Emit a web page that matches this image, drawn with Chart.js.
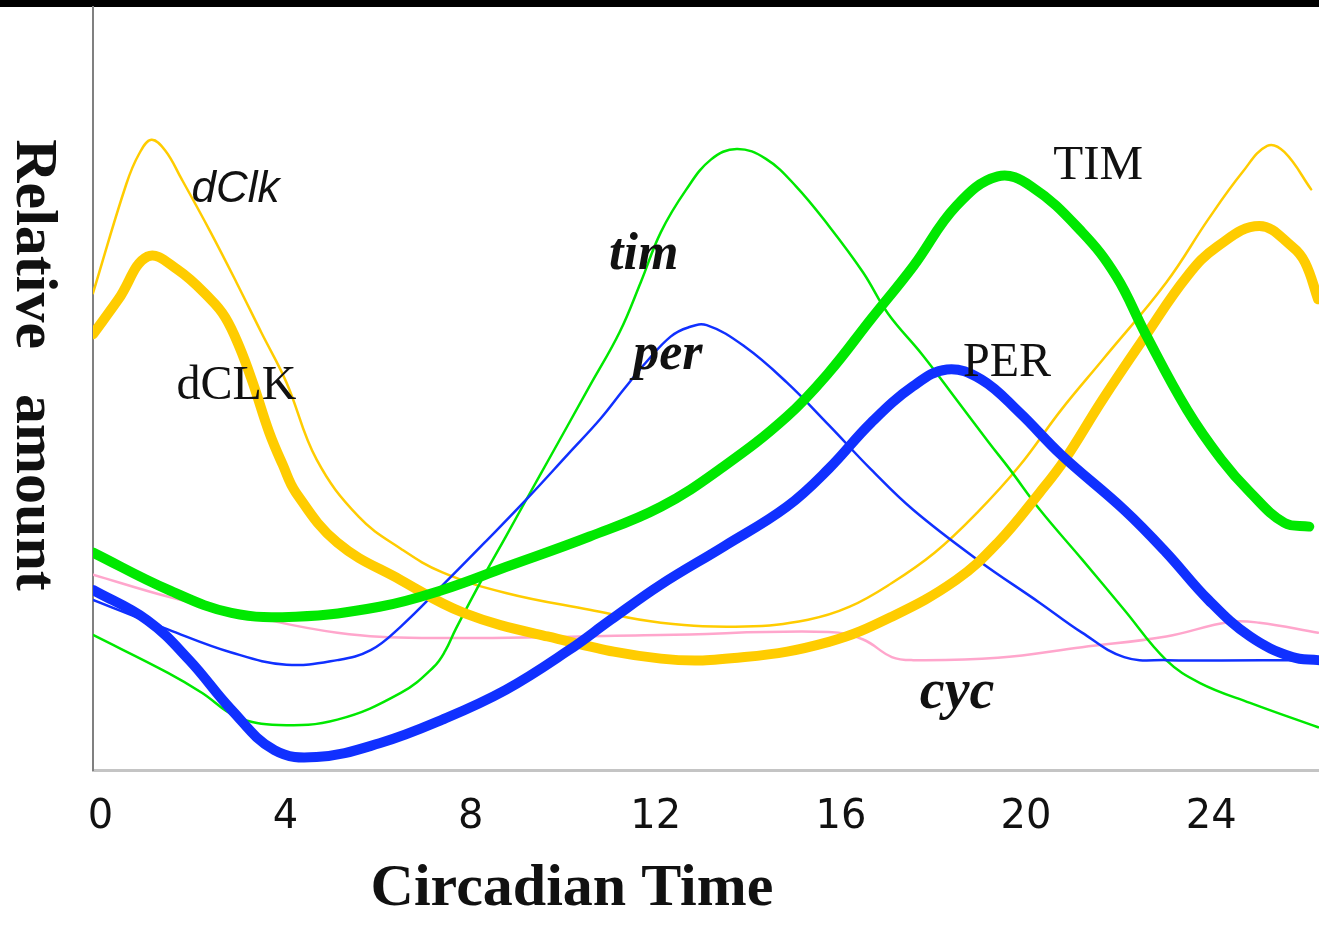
<!DOCTYPE html>
<html>
<head>
<meta charset="utf-8">
<title>Circadian Time</title>
<script src="https://cdn.jsdelivr.net/npm/chart.js@4.4.1/dist/chart.umd.min.js"></script>
<style>
  html, body { margin: 0; padding: 0; background: #fff; overflow: hidden; }
  canvas { display: block; }
</style>
</head>
<body>
<canvas id="clockChart" width="1319" height="929"></canvas>
<script>
// x axis ticks (hours)
var tickHours = [0, 4, 8, 12, 16, 20, 24];

// dClk mRNA (thin yellow)
var dClkHours = [-0.16, 0.56, 0.84, 1.10, 1.4, 1.75, 2.38, 2.94, 3.48, 4.02, 4.67, 5.58, 6.49, 7.39, 8.76, 10.57, 12.11, 13.92, 15.29, 16.19, 17.1, 18.03, 18.94, 19.85, 20.76, 21.66, 23.03, 23.94, 24.67, 25.21, 25.58, 26.16];
var dClkLevel = [62.5, 76.8, 80.8, 82.6, 81.2, 77.5, 70.5, 63.9, 57.3, 50.8, 40.7, 33.2, 29.0, 25.9, 23.2, 21.0, 19.3, 18.8, 19.7, 21.4, 24.5, 28.5, 33.7, 39.8, 47.2, 53.8, 63.9, 72.2, 78.3, 81.8, 81.0, 76.1];

// dCLK protein (thick yellow)
var dCLKHours = [-0.16, 0.39, 1.02, 1.66, 2.38, 2.7, 3.0, 3.29, 3.65, 3.94, 4.22, 5.12, 6.49, 7.85, 9.66, 12.11, 13.92, 15.74, 17.1, 18.49, 19.39, 20.3, 20.84, 21.66, 22.57, 23.48, 24.13, 25.04, 25.75, 26.03, 26.31];
var dCLKLevel = [57.1, 61.7, 67.3, 65.6, 61.7, 59.3, 55.5, 50.8, 44.2, 40.0, 36.4, 29.8, 24.9, 20.6, 17.5, 14.6, 14.8, 16.8, 20.1, 24.9, 29.8, 36.4, 40.7, 48.6, 56.8, 64.7, 68.6, 71.3, 68.6, 66.5, 61.7];

// tim mRNA (thin green)
var timHours = [-0.16, 1.47, 2.2, 2.94, 3.85, 5.12, 6.49, 7.2, 7.45, 7.68, 8.3, 8.76, 9.3, 9.66, 10.57, 11.22, 11.68, 12.11, 12.65, 13.19, 13.75, 14.38, 15.03, 15.74, 16.48, 17.02, 17.75, 18.49, 19.2, 19.65, 20.3, 21.21, 22.12, 23.03, 23.76, 24.84, 26.31];
var timLevel = [17.7, 12.7, 10.1, 7.0, 5.9, 6.6, 10.1, 13.5, 15.6, 18.5, 25.6, 30.6, 36.5, 40.4, 50.3, 57.4, 64.0, 70.5, 76.0, 80.0, 81.4, 80.1, 76.5, 71.3, 65.2, 59.8, 54.5, 48.6, 42.9, 39.4, 34.1, 27.6, 21.0, 14.4, 11.4, 8.8, 5.6];

// TIM protein (thick green)
var TIMHours = [-0.16, 1.47, 2.83, 4.22, 6.03, 7.39, 8.76, 10.57, 12.11, 13.47, 14.83, 15.74, 16.65, 17.56, 18.49, 19.39, 20.11, 21.21, 21.95, 22.57, 23.48, 24.22, 24.84, 25.58, 26.12];
var TIMLevel = [28.5, 23.6, 20.6, 20.1, 21.4, 23.6, 26.6, 30.6, 34.5, 39.8, 46.3, 52.1, 59.1, 66.0, 73.9, 77.8, 76.5, 70.5, 64.7, 57.3, 47.2, 40.7, 36.4, 32.4, 31.9];

// per mRNA (thin blue)
var perHours = [-0.16, 1.47, 2.83, 4.02, 5.12, 5.84, 6.49, 7.39, 8.3, 9.21, 10.12, 10.8, 11.31, 11.8, 12.32, 12.7, 13.1, 13.92, 14.83, 15.74, 16.65, 17.56, 18.94, 20.3, 21.21, 22.12, 23.03, 26.31];
var perLevel = [22.3, 18.4, 15.4, 13.8, 14.4, 15.7, 18.8, 24.2, 29.8, 35.5, 41.5, 46.0, 49.9, 53.5, 56.8, 58.0, 58.3, 55.5, 50.8, 45.2, 39.4, 34.1, 27.6, 21.9, 18.0, 14.8, 14.4, 14.4];

// PER protein (thick blue)
var PERHours = [-0.16, 1.02, 1.92, 2.83, 3.76, 4.67, 6.03, 7.39, 8.76, 10.12, 11.03, 12.11, 13.47, 14.83, 15.74, 16.65, 17.56, 18.29, 19.03, 19.85, 20.76, 22.12, 23.03, 23.94, 24.84, 25.75, 26.31];
var PERLevel = [23.6, 19.6, 14.4, 7.9, 2.6, 1.7, 3.5, 6.6, 10.5, 15.7, 19.7, 24.3, 29.3, 34.5, 39.5, 45.5, 50.3, 52.5, 51.2, 46.9, 41.3, 34.1, 28.5, 22.3, 17.5, 14.8, 14.4];

// cyc mRNA (thin pink)
var cycHours = [-0.16, 1.47, 3.29, 5.12, 6.94, 12.11, 15.74, 16.48, 17.1, 17.56, 19.39, 21.21, 23.03, 24.39, 25.04, 26.31];
var cycLevel = [25.6, 22.7, 20.1, 18.0, 17.3, 17.7, 18.1, 17.1, 14.8, 14.4, 14.7, 16.1, 17.5, 19.4, 19.3, 18.0];

// names written next to the curves, placed in hour / level units
var geneLabels = [
    { text: 'dClk', hour: 2.92, level: 74.4, font: 'italic 44px "Liberation Sans"' },
    { text: 'dCLK', hour: 2.94, level: 48.6, font: '48px "Liberation Serif"' },
    { text: 'tim', hour: 11.74, level: 65.6, font: 'italic bold 52px "Liberation Serif"' },
    { text: 'per', hour: 12.26, level: 52.5, font: 'italic bold 52px "Liberation Serif"' },
    { text: 'TIM', hour: 21.56, level: 77.4, font: '49px "Liberation Serif"' },
    { text: 'PER', hour: 19.59, level: 51.6, font: '48px "Liberation Serif"' },
    { text: 'cyc', hour: 18.51, level: 8.1, font: 'italic bold 56px "Liberation Serif"' }
];

var YELLOW = '#ffcc00';
var GREEN = '#00e800';
var BLUE = '#1030ff';
var PINK = '#ffa6cc';

function toPoints(hours, levels) {
    return hours.map(function(h, i) {
        return { x: h, y: levels[i] };
    });
}

function curve(label, hours, levels, color, width) {
    return {
        label: label,
        data: toPoints(hours, levels),
        borderColor: color,
        backgroundColor: color,
        borderWidth: width,
        borderCapStyle: 'round',
        borderJoinStyle: 'round',
        pointRadius: 0,
        tension: 0.4,
        fill: false
    };
}

// black band, axis titles and curve names
var textPlugin = {
    id: 'circadianText',
    beforeDraw: function(chart) {
        var ctx = chart.ctx;
        ctx.save();
        ctx.fillStyle = '#000';
        ctx.fillRect(0, 0, chart.width, 7);
        ctx.restore();
    },
    afterDraw: function(chart) {
        var ctx = chart.ctx;
        var xs = chart.scales.x;
        var ys = chart.scales.y;
        ctx.save();
        ctx.fillStyle = '#111';
        ctx.textAlign = 'center';
        ctx.textBaseline = 'alphabetic';

        geneLabels.forEach(function(l) {
            ctx.font = l.font;
            ctx.fillText(l.text, xs.getPixelForValue(l.hour), ys.getPixelForValue(l.level));
        });

        ctx.font = 'bold 60px "Liberation Serif"';
        ctx.fillText('Circadian Time', 572, 905);

        ctx.translate(17, 365);
        ctx.rotate(Math.PI / 2);
        ctx.fillText('Relative   amount', 0, 0);
        ctx.restore();
    }
};

var ctx = document.getElementById('clockChart').getContext('2d');
new Chart(ctx, {
    type: 'line',
    data: {
        datasets: [
            curve('PER', PERHours, PERLevel, BLUE, 10),
            curve('TIM', TIMHours, TIMLevel, GREEN, 10),
            curve('dCLK', dCLKHours, dCLKLevel, YELLOW, 10),
            curve('per', perHours, perLevel, BLUE, 2.5),
            curve('tim', timHours, timLevel, GREEN, 2.5),
            curve('dClk', dClkHours, dClkLevel, YELLOW, 2.5),
            curve('cyc', cycHours, cycLevel, PINK, 2.5)
        ]
    },
    options: {
        responsive: false,
        devicePixelRatio: 1,
        animation: false,
        layout: { padding: { top: 7, left: 0, right: 0, bottom: 0 } },
        plugins: {
            legend: { display: false },
            tooltip: { enabled: false }
        },
        scales: {
            x: {
                type: 'linear',
                min: -0.16,
                max: 26.33,
                afterBuildTicks: function(scale) {
                    scale.ticks = tickHours.map(function(h) { return { value: h }; });
                },
                afterFit: function(scale) { scale.height = 159; },
                ticks: {
                    autoSkip: false,
                    maxRotation: 0,
                    padding: 24,
                    color: '#111',
                    font: { family: 'DejaVu Sans', size: 40 }
                },
                grid: { display: false, drawTicks: false },
                border: { display: true, color: '#c4c4c4', width: 3 }
            },
            y: {
                min: 0,
                max: 100,
                afterFit: function(scale) { scale.width = 93; },
                ticks: { display: false },
                grid: { display: false, drawTicks: false },
                border: { display: true, color: '#808080', width: 2 }
            }
        }
    },
    plugins: [textPlugin]
});
</script>
</body>
</html>
